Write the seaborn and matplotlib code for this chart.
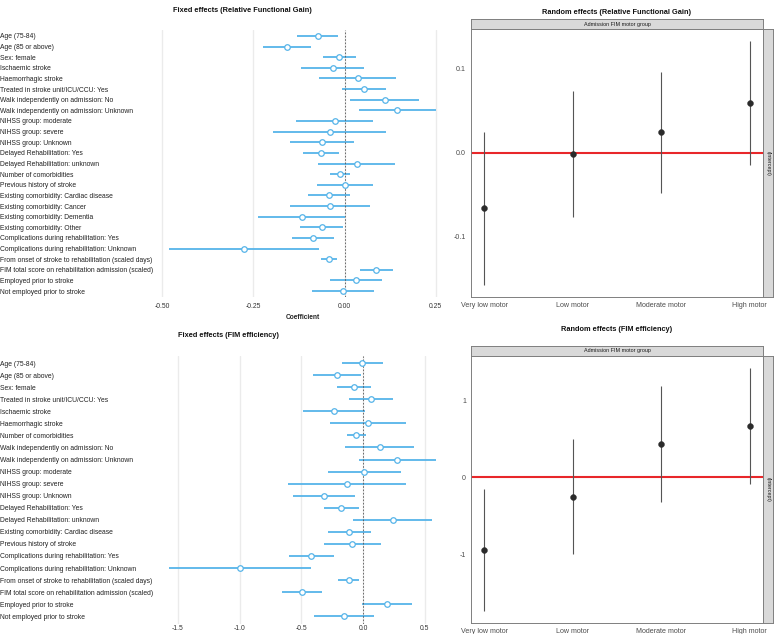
import numpy as np
import pandas as pd
import matplotlib
matplotlib.use("Agg")
import matplotlib.pyplot as plt
import seaborn as sns

# ---------------- data ----------------
terms_rfg = ["Age (75-84)", "Age (85 or above)", "Sex: female", "Ischaemic stroke",
             "Haemorrhagic stroke", "Treated in stroke unit/ICU/CCU: Yes",
             "Walk independently on admission: No", "Walk independently on admission: Unknown",
             "NIHSS group: moderate", "NIHSS group: severe", "NIHSS group: Unknown",
             "Delayed Rehabilitation: Yes", "Delayed Rehabilitation: unknown",
             "Number of comorbidities", "Previous history of stroke",
             "Existing comorbidity: Cardiac disease", "Existing comorbidity: Cancer",
             "Existing comorbidity: Dementia", "Existing comorbidity: Other",
             "Complications during rehabilitation: Yes", "Complications during rehabilitation: Unknown",
             "From onset of stroke to rehabilitation (scaled days)",
             "FIM total score on rehabilitation admission (scaled)",
             "Employed prior to stroke", "Not employed prior to stroke"]
est_rfg = [-0.074, -0.158, -0.015, -0.033, 0.036, 0.054, 0.111, 0.145, -0.027, -0.040, -0.062,
           -0.064, 0.033, -0.013, 0.002, -0.043, -0.040, -0.118, -0.063, -0.087, -0.275,
           -0.043, 0.087, 0.032, -0.005]
lo_rfg = [-0.130, -0.223, -0.060, -0.120, -0.069, -0.006, 0.016, 0.040, -0.132, -0.196, -0.151,
          -0.114, -0.073, -0.039, -0.075, -0.101, -0.150, -0.237, -0.123, -0.145, -0.481,
          -0.066, 0.043, -0.039, -0.089]
hi_rfg = [-0.018, -0.092, 0.031, 0.053, 0.141, 0.115, 0.205, 0.250, 0.078, 0.115, 0.026,
          -0.016, 0.139, 0.015, 0.078, 0.016, 0.070, 0.000, -0.004, -0.029, -0.070,
          -0.020, 0.132, 0.104, 0.081]

terms_fe = ["Age (75-84)", "Age (85 or above)", "Sex: female", "Treated in stroke unit/ICU/CCU: Yes",
            "Ischaemic stroke", "Haemorrhagic stroke", "Number of comorbidities",
            "Walk independently on admission: No", "Walk independently on admission: Unknown",
            "NIHSS group: moderate", "NIHSS group: severe", "NIHSS group: Unknown",
            "Delayed Rehabilitation: Yes", "Delayed Rehabilitation: unknown",
            "Existing comorbidity: Cardiac disease", "Previous history of stroke",
            "Complications during rehabilitation: Yes", "Complications during rehabilitation: Unknown",
            "From onset of stroke to rehabilitation (scaled days)",
            "FIM total score on rehabilitation admission (scaled)",
            "Employed prior to stroke", "Not employed prior to stroke"]
est_fe = [-0.005, -0.211, -0.073, 0.065, -0.235, 0.041, -0.057, 0.135, 0.278, 0.011, -0.130,
          -0.319, -0.176, 0.241, -0.111, -0.086, -0.419, -0.997, -0.116, -0.495, 0.195, -0.151]
lo_fe = [-0.168, -0.403, -0.208, -0.111, -0.486, -0.268, -0.132, -0.143, -0.030, -0.286, -0.608,
         -0.565, -0.314, -0.081, -0.286, -0.316, -0.600, -1.570, -0.200, -0.654, -0.005, -0.395]
hi_fe = [0.165, -0.019, 0.065, 0.243, 0.019, 0.349, 0.022, 0.414, 0.589, 0.308, 0.346,
         -0.068, -0.035, 0.559, 0.062, 0.143, -0.238, -0.422, -0.035, -0.335, 0.397, 0.089]

groups = ["Very low motor", "Low motor", "Moderate motor", "High motor"]
re_rfg_est = [-0.066, -0.002, 0.024, 0.059]
re_rfg_lo = [-0.157, -0.077, -0.048, -0.015]
re_rfg_hi = [0.024, 0.073, 0.096, 0.132]
re_fe_est = [-0.952, -0.256, 0.429, 0.667]
re_fe_lo = [-1.740, -1.000, -0.320, -0.087]
re_fe_hi = [-0.160, 0.490, 1.182, 1.419]

xticks_rfg = [-0.50, -0.25, 0.00, 0.25]
xticklabels_rfg = ["-0.50", "-0.25", "0.00", "0.25"]
xticks_fe = [-1.5, -1.0, -0.5, 0.0, 0.5]
xticklabels_fe = ["-1.5", "-1.0", "-0.5", "0.0", "0.5"]
yticks_re_rfg = [-0.1, 0.0, 0.1]
yticklabels_re_rfg = ["-0.1", "0.0", "0.1"]
yticks_re_fe = [-1, 0, 1]
yticklabels_re_fe = ["-1", "0", "1"]

# ---------------- style ----------------
sns.set_style("white")
plt.rcParams['font.family'] = ['Liberation Sans', 'DejaVu Sans']

W, H = 774, 634
fig = plt.figure(figsize=(W / 100, H / 100), dpi=100)

def box(x0, y0, x1, y1):
    return [x0 / W, 1 - y1 / H, (x1 - x0) / W, (y1 - y0) / H]

BLUE = "#56B4E9"

def fixed_panel(rect, terms, est, lo, hi, xticks, xticklabels, xlabel, xpad):
    ax = fig.add_axes(rect)
    df = pd.DataFrame({"term": terms, "est": est, "lo": lo, "hi": hi})
    df["pos"] = np.arange(len(df))
    for xt in xticks:
        ax.axvline(xt, color="#EBEBEB", lw=1.0, zorder=0)
    ax.hlines(df["pos"], df["lo"], df["hi"], color=BLUE, lw=1.3, zorder=2)
    ax.axvline(0, color="#555555", lw=0.6, ls=(0, (2, 2)), zorder=3)
    sns.scatterplot(data=df, x="est", y="pos", ax=ax, marker="o", s=16,
                    facecolor="white", edgecolor=BLUE, linewidth=0.9, zorder=4, legend=False)
    rng = df["hi"].max() - df["lo"].min()
    ax.set_xlim(df["lo"].min() - 0.05 * rng, df["hi"].max() + 0.05 * rng)
    ax.set_ylim(len(df) - 1 + 0.6, -0.6)
    ax.set_yticks(df["pos"])
    ax.set_yticklabels(df["term"], fontsize=4.85, color="#222222", ha="left")
    pad_pt = rect[0] * W * 0.72
    ax.tick_params(axis="y", length=0, pad=pad_pt)
    ax.set_xticks(xticks)
    ax.set_xticklabels(xticklabels, fontsize=4.9, color="#333333")
    ax.tick_params(axis="x", length=0, pad=xpad)
    for s in ax.spines.values():
        s.set_visible(False)
    ax.set_ylabel("")
    ax.set_xlabel(xlabel, fontsize=4.8, fontweight="bold", labelpad=3)
    return ax

def random_panel(rect, strip_top, strip_right, est, lo, hi, yticks, yticklabels):
    ax = fig.add_axes(rect)
    df = pd.DataFrame({"group": groups, "est": est, "lo": lo, "hi": hi})
    df["pos"] = np.arange(len(df))
    ax.axhline(0, color="#E8272A", lw=1.5, zorder=1)
    ax.vlines(df["pos"], df["lo"], df["hi"], color="#555555", lw=0.8, zorder=2)
    sns.scatterplot(data=df, x="pos", y="est", ax=ax, s=18, color="#2b2b2b",
                    edgecolor="#2b2b2b", linewidth=0.3, zorder=3, legend=False)
    rng = df["hi"].max() - df["lo"].min()
    ax.set_ylim(df["lo"].min() - 0.05 * rng, df["hi"].max() + 0.05 * rng)
    ax.set_xlim(-0.15, len(df) - 1 + 0.15)
    ax.set_xticks(df["pos"])
    ax.set_xticklabels(df["group"], fontsize=5.15, color="#4D4D4D")
    ax.set_yticks(yticks)
    ax.set_yticklabels(yticklabels, fontsize=5.15, color="#4D4D4D")
    ax.tick_params(axis="both", length=1.5, width=0.5, color="#666666", pad=2)
    ax.set_xlabel("")
    ax.set_ylabel("")
    for s in ax.spines.values():
        s.set_visible(True)
        s.set_color("#7F7F7F")
        s.set_linewidth(0.7)
    # strips
    st = fig.add_axes(strip_top)
    st.set_facecolor("#D9D9D9")
    st.set_xticks([]); st.set_yticks([])
    for s in st.spines.values():
        s.set_color("#7F7F7F"); s.set_linewidth(0.7)
    st.text(0.5, 0.5, "Admission FIM motor group", ha="center", va="center",
            fontsize=3.9, color="#1a1a1a", transform=st.transAxes)
    sr = fig.add_axes(strip_right)
    sr.set_facecolor("#D9D9D9")
    sr.set_xticks([]); sr.set_yticks([])
    for s in sr.spines.values():
        s.set_color("#7F7F7F"); s.set_linewidth(0.7)
    sr.text(0.5, 0.5, "(Intercept)", ha="center", va="center", rotation=270,
            fontsize=3.9, color="#1a1a1a", transform=sr.transAxes)
    return ax

fixed_panel(box(156, 29.6, 449, 297.4), terms_rfg, est_rfg, lo_rfg, hi_rfg,
            xticks_rfg, xticklabels_rfg, "Coefficient", 4)
fixed_panel(box(156, 355.8, 449, 623.5), terms_fe, est_fe, lo_fe, hi_fe,
            xticks_fe, xticklabels_fe, "", 1)

random_panel(box(471, 29.3, 763, 297), box(471, 19, 763, 29.3), box(763, 29.3, 773, 297),
             re_rfg_est, re_rfg_lo, re_rfg_hi, yticks_re_rfg, yticklabels_re_rfg)
random_panel(box(471, 355.7, 763, 623.3), box(471, 345.7, 763, 355.7), box(763, 355.7, 773, 623.3),
             re_fe_est, re_fe_lo, re_fe_hi, yticks_re_fe, yticklabels_re_fe)

def title(x, y, s):
    fig.text(x / W, 1 - y / H, s, ha="center", va="center", fontsize=5.3,
             fontweight="bold", color="#111111")

title(242.7, 10.7, "Fixed effects (Relative Functional Gain)")
title(228.3, 335.7, "Fixed effects (FIM efficiency)")
title(617, 12.7, "Random effects (Relative Functional Gain)")
title(617, 329.3, "Random effects (FIM efficiency)")

fig.savefig("out.png", dpi=100, facecolor="white")
